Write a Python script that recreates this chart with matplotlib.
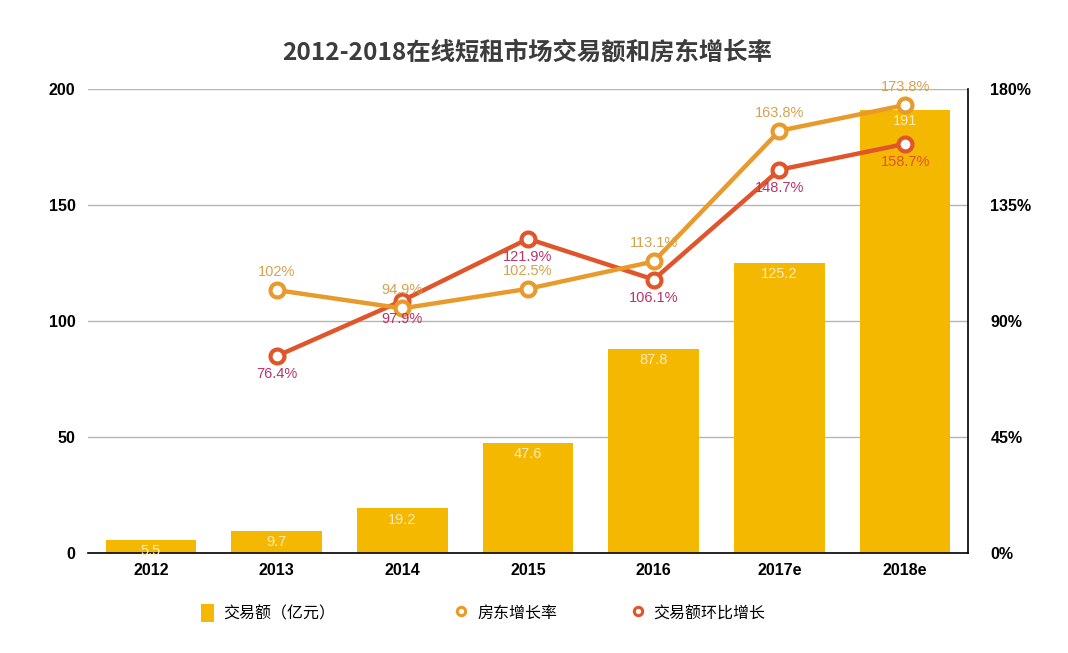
import matplotlib
matplotlib.use("Agg")
import matplotlib.pyplot as plt
import numpy as np
from matplotlib.lines import Line2D
from matplotlib.patches import Patch
from matplotlib.ticker import FuncFormatter

plt.rcParams['font.family'] = ['Liberation Sans', 'Noto Sans CJK SC', 'DejaVu Sans']

years = ['2012', '2013', '2014', '2015', '2016', '2017e', '2018e']
volume = [5.5, 9.7, 19.2, 47.6, 87.8, 125.2, 191]
host_growth = [np.nan, 102, 94.9, 102.5, 113.1, 163.8, 173.8]
volume_growth = [np.nan, 76.4, 97.9, 121.9, 106.1, 148.7, 158.7]

BAR = '#F5B800'
ORANGE = '#E89A2C'
RED = '#E0552A'
ORANGE_TXT = '#D6A24E'
RED_TXT = '#B8346A'

fig = plt.figure(figsize=(10.68, 6.53), dpi=100)
ax = fig.add_axes([0.0824, 0.1531, 0.8240, 0.7106])
ax2 = ax.twinx()

x = np.arange(len(years))
ax.bar(x, volume, width=0.72, color=BAR, zorder=2)
for i, v in enumerate(volume):
    ax.annotate(str(v), (i, v), xytext=(0, -3), textcoords='offset points',
                ha='center', va='top', color='#FCEBC0', fontsize=10.5, zorder=3)

ax.set_xlim(-0.5, len(years) - 0.5)
ax.set_ylim(0, 200)
ax.set_yticks([0, 50, 100, 150, 200])
ax.yaxis.grid(True, color='#B5B5B5', lw=1)
ax.set_axisbelow(True)
ax.set_xticks(x)
ax.set_xticklabels(years)
ax.tick_params(axis='y', length=0, labelsize=11.5, pad=9)
ax.tick_params(axis='x', length=0, labelsize=11.5, pad=7)
for lab in ax.get_xticklabels() + ax.get_yticklabels():
    lab.set_fontweight('bold')
for s in ['top', 'left', 'right']:
    ax.spines[s].set_visible(False)
ax.spines['bottom'].set_color('black')
ax.spines['bottom'].set_linewidth(1.2)

ax2.set_ylim(0, 180)
ax2.set_yticks([0, 45, 90, 135, 180])
ax2.yaxis.set_major_formatter(FuncFormatter(lambda v, p: '%d%%' % v))
ax2.tick_params(length=0, labelsize=11.5, pad=16)
for lab in ax2.get_yticklabels():
    lab.set_fontweight('bold')
for s in ['top', 'left', 'bottom']:
    ax2.spines[s].set_visible(False)
ax2.spines['right'].set_color('black')
ax2.spines['right'].set_linewidth(1.2)

ax2.plot(x, volume_growth, color=RED, lw=3.2, marker='o', ms=10,
         mfc='white', mec=RED, mew=3, zorder=4)
ax2.plot(x, host_growth, color=ORANGE, lw=3.2, marker='o', ms=10,
         mfc='white', mec=ORANGE, mew=3, zorder=5)

for i, v in enumerate(host_growth):
    if np.isnan(v):
        continue
    ax2.annotate('%g%%' % v, (i, v), xytext=(0, 8), textcoords='offset points',
                 ha='center', va='bottom', color=ORANGE_TXT, fontsize=10.5, zorder=6)
for i, v in enumerate(volume_growth):
    if np.isnan(v):
        continue
    c = RED if i == len(years) - 1 else RED_TXT
    ax2.annotate('%g%%' % v, (i, v), xytext=(0, -8), textcoords='offset points',
                 ha='center', va='top', color=c, fontsize=10.5, zorder=6)

fig.text(0.4935, 0.92, '2012-2018在线短租市场交易额和房东增长率',
         family=['Noto Sans CJK SC'], fontweight='bold', fontsize=17.6,
         color='#3C3C3C', ha='center', va='center')

handles = [
    (Patch(facecolor=BAR, edgecolor='none'), '交易额（亿元）', 0.1745),
    (Line2D([], [], ls='none', marker='o', ms=6, mfc='white', mec=ORANGE, mew=2.2), '房东增长率', 0.4125),
    (Line2D([], [], ls='none', marker='o', ms=6, mfc='white', mec=RED, mew=2.2), '交易额环比增长', 0.5775),
]
for h, label, xpos in handles:
    fig.legend([h], [label], loc='center left', bbox_to_anchor=(xpos, 0.061),
               frameon=False, handlelength=0.8, handleheight=1.3,
               handletextpad=0.6, prop={'family': ['Noto Sans CJK SC'], 'size': 11.5})

fig.savefig('out.png', dpi=100)
